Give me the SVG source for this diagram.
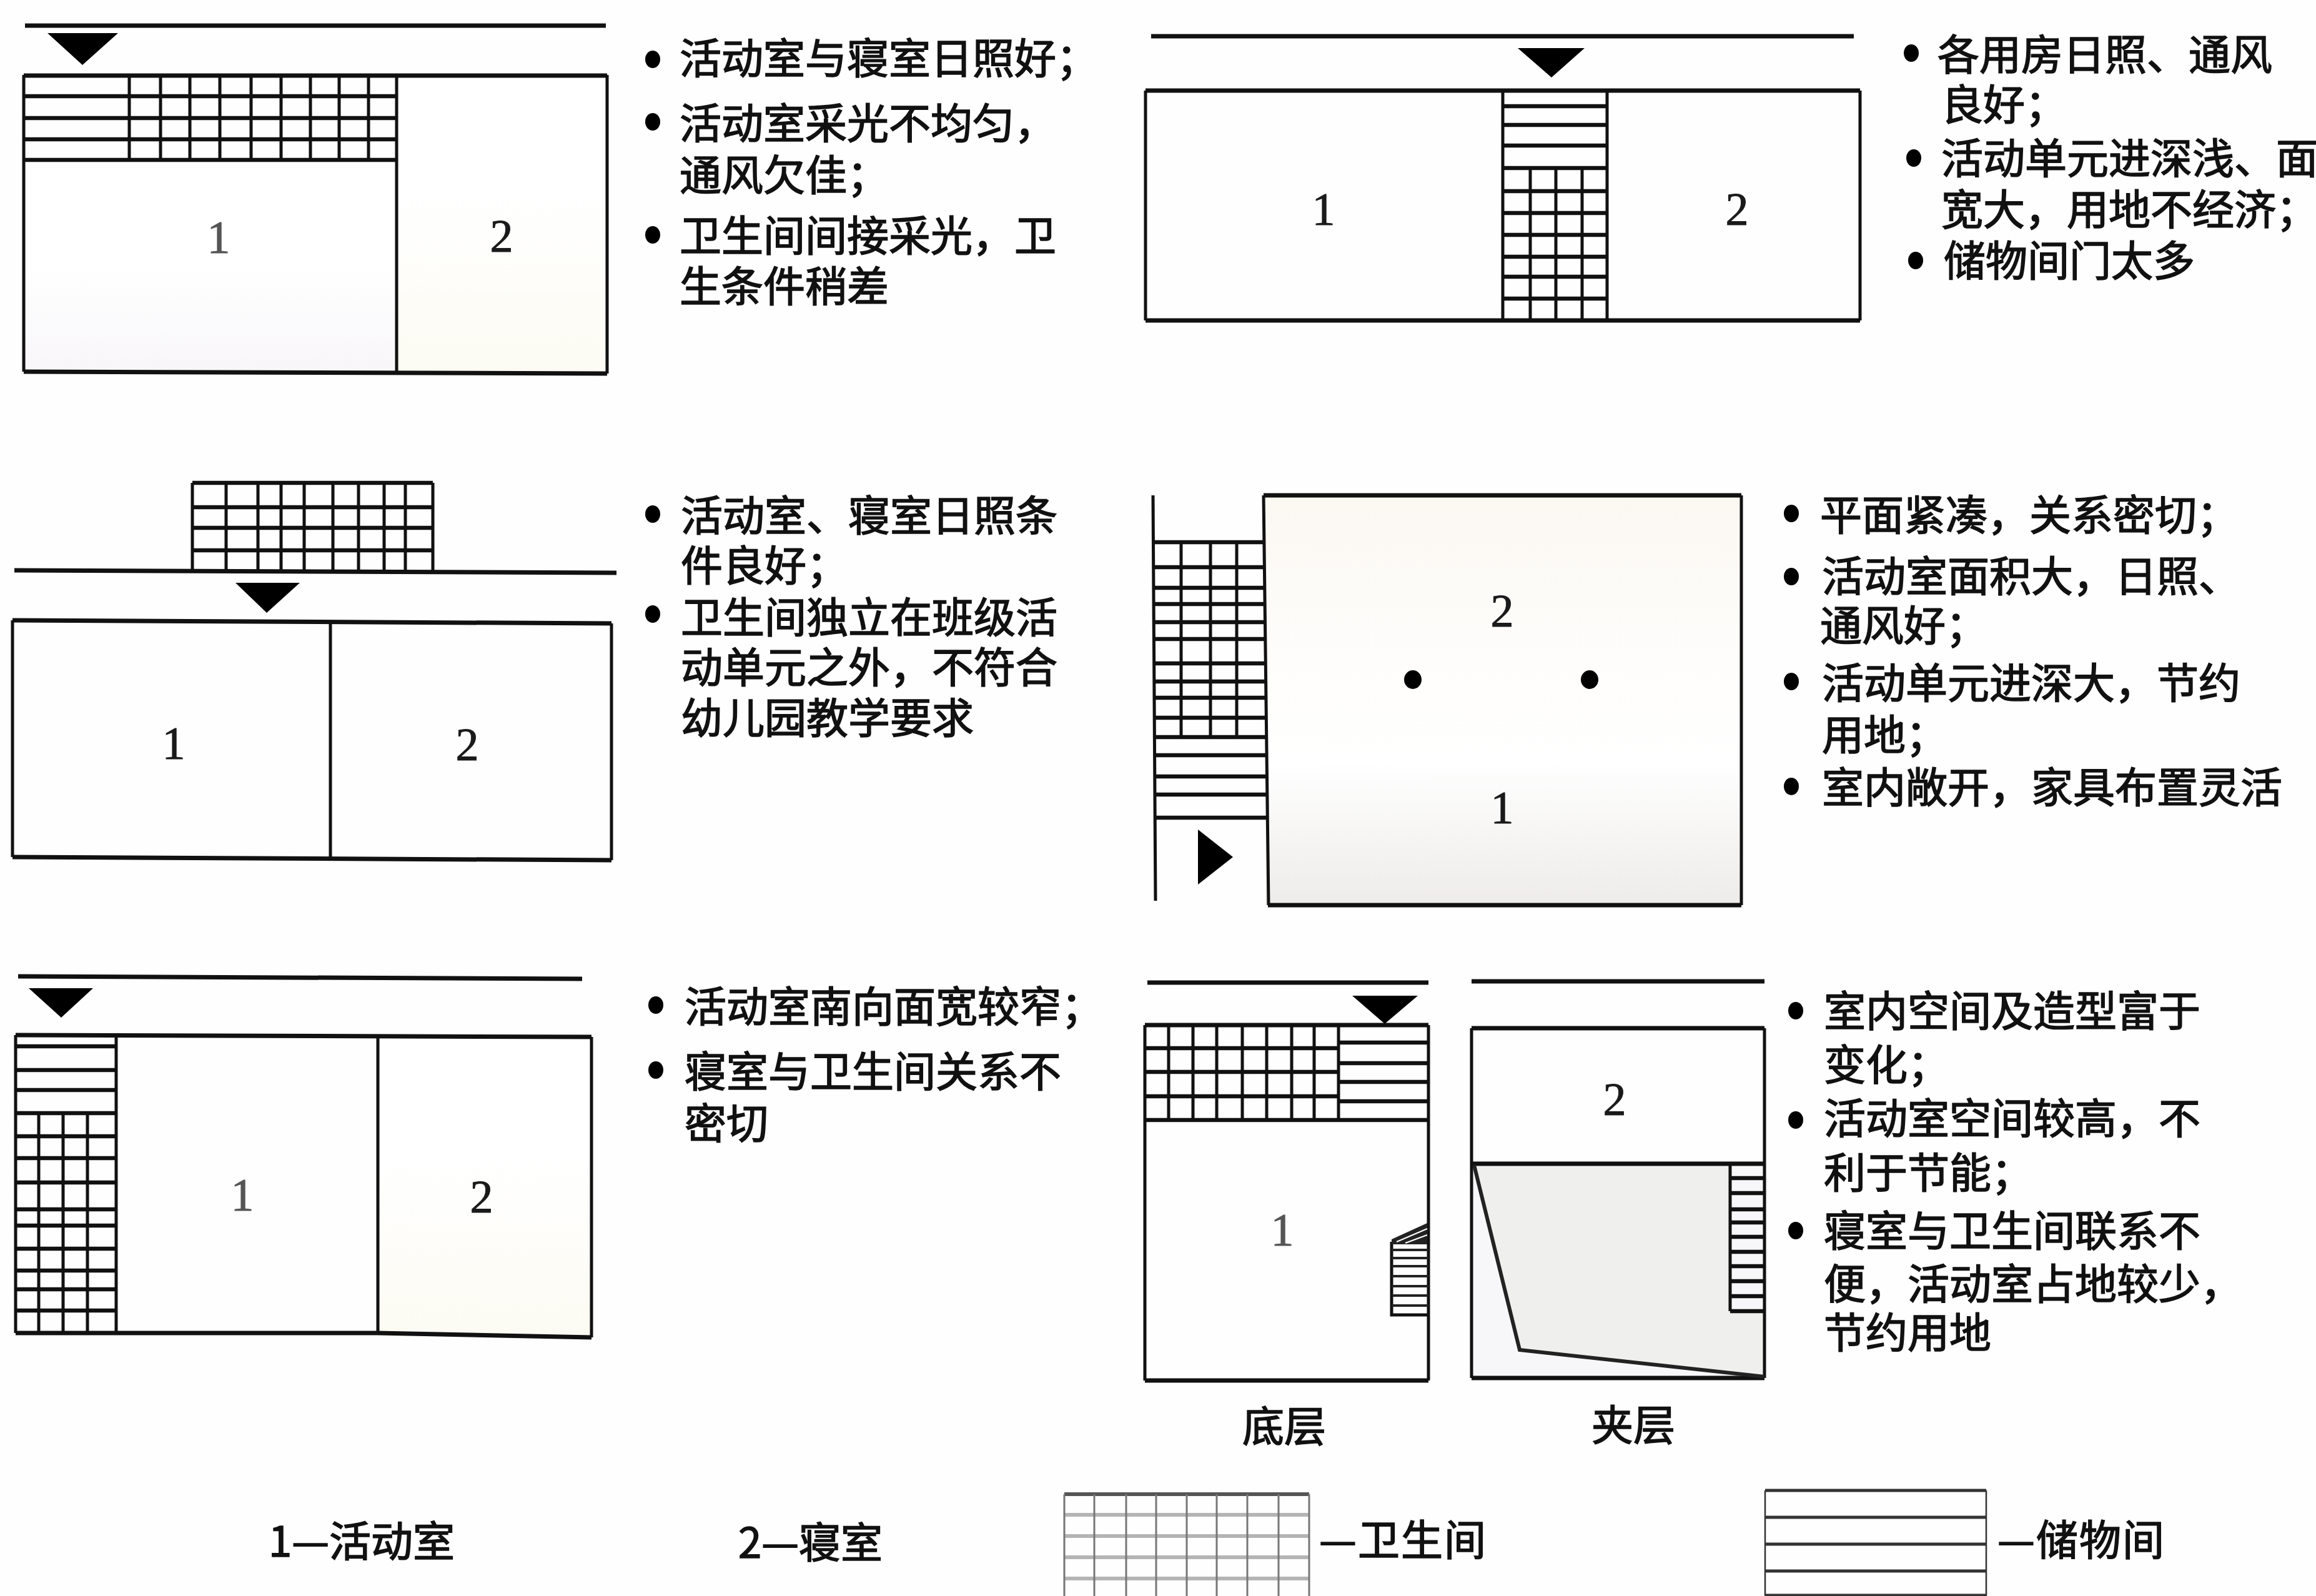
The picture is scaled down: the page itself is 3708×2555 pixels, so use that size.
<svg xmlns="http://www.w3.org/2000/svg" width="3708" height="2555" viewBox="0 0 3708 2555">
<style>
.h{fill:none;stroke:#111;stroke-width:7}
.g{fill:none;stroke:#111;stroke-width:6.5}
.v{fill:none;stroke:#111;stroke-width:5}
.t{font-family:"Noto Sans CJK SC","Noto Sans",sans-serif;font-size:67px;font-weight:400;fill:#111;stroke:#111;stroke-width:1.6}
.n{font-family:"Liberation Serif","Times New Roman",serif;font-size:74px;fill:#1a1a1a;text-anchor:middle;stroke:#1a1a1a;stroke-width:1}
.f{fill:#555;stroke:#555}
.c{text-anchor:middle}
.l{letter-spacing:2px}
.a{fill:#000}
</style>
<defs>
<linearGradient id="gP" x1="0" y1="0" x2="0" y2="1"><stop offset="0.5" stop-color="#fff"/><stop offset="1" stop-color="#f8f6f9"/></linearGradient>
<linearGradient id="gC" x1="0" y1="0" x2="0" y2="1"><stop offset="0.4" stop-color="#fff"/><stop offset="1" stop-color="#fcfbf3"/></linearGradient>
<linearGradient id="gB" x1="0" y1="0" x2="0" y2="1"><stop offset="0" stop-color="#fbf8f2"/><stop offset="0.4" stop-color="#fefdfb"/><stop offset="0.65" stop-color="#fff"/><stop offset="1" stop-color="#eeecea"/></linearGradient>
</defs>
<rect width="3708" height="2555" fill="#fefefe"/>

<g id="panel-1">
<rect x="38" y="256" width="597" height="339" fill="url(#gP)"/>
<rect x="635" y="120" width="337" height="475" fill="url(#gC)"/>
<path class="h" d="M40 41H970M38 121H972M38 595L972 598"/>
<path class="g" d="M38 154H635M38 189H635M38 223H635M38 256H635"/>
<path class="v" d="M38 120V595M972 120V598M635 120V596M207 120V256M257 120V256M304 120V256M352 120V256M402 120V256M450 120V256M497 120V256M543 120V256M590 120V256"/>
<polygon class="a" points="76,53 189,53 132,104"/>
<text class="n f" x="350" y="405">1</text>
<text class="n" x="803" y="403">2</text>
<ellipse class="a" cx="1045" cy="95" rx="12" ry="14"/><ellipse class="a" cx="1045" cy="195" rx="12" ry="14"/><ellipse class="a" cx="1045" cy="376" rx="12" ry="14"/>
<text class="t" x="1088" y="118">活动室与寝室日照好&#xFF1B;</text>
<text class="t" x="1088" y="222">活动室采光不均匀&#xFF0C;</text>
<text class="t" x="1088" y="305">通风欠佳&#xFF1B;</text>
<text class="t" x="1088" y="402">卫生间间接采光&#xFF0C;卫</text>
<text class="t" x="1088" y="483">生条件稍差</text>
</g>

<g id="panel-2">
<path class="h" d="M1843 58H2968M1834 145H2978M1834 513H2978"/>
<path class="g" d="M2406 170H2573M2406 200H2573M2406 233H2573M2406 269H2573M2406 306H2573M2406 341H2573M2406 376H2573M2406 411H2573M2406 443H2573M2406 478H2573"/>
<path class="v" d="M1834 145V513M2978 145V513M2406 145V513M2573 145V513M2450 269V513M2491 269V513M2533 269V513"/>
<polygon class="a" points="2430,77 2537,77 2484,124"/>
<text class="n" x="2119" y="360">1</text>
<text class="n" x="2781" y="360">2</text>
<ellipse class="a" cx="3060" cy="85" rx="12" ry="14"/><ellipse class="a" cx="3064" cy="253" rx="12" ry="14"/><ellipse class="a" cx="3067" cy="417" rx="12" ry="14"/>
<text class="t" x="3102" y="112">各用房日照、通风</text>
<text class="t" x="3108" y="192">良好&#xFF1B;</text>
<text class="t" x="3108" y="278">活动单元进深浅、面</text>
<text class="t" x="3108" y="360">宽大&#xFF0C;用地不经济&#xFF1B;</text>
<text class="t" x="3112" y="442">储物间门太多</text>
</g>

<g id="panel-3">
<path class="h" d="M23 913L987 917M20 993L979 998M20 1372L979 1377"/>
<path class="g" d="M308 773H693M308 812H693M308 845H693M308 881H693"/>
<path class="v" d="M308 773V914M362 773V914M413 773V914M450 773V914M487 773V914M533 773V914M574 773V914M615 773V914M649 773V914M693 773V915M20 993V1372M979 998V1377M529 995V1375"/>
<polygon class="a" points="377,933 480,933 427,981"/>
<text class="n" x="278" y="1215">1</text>
<text class="n" x="748" y="1217">2</text>
<ellipse class="a" cx="1045" cy="823" rx="12" ry="14"/><ellipse class="a" cx="1045" cy="983" rx="12" ry="14"/>
<text class="t" x="1090" y="850">活动室、寝室日照条</text>
<text class="t" x="1090" y="930">件良好&#xFF1B;</text>
<text class="t" x="1090" y="1013">卫生间独立在班级活</text>
<text class="t" x="1090" y="1093">动单元之外&#xFF0C;不符合</text>
<text class="t" x="1090" y="1174">幼儿园教学要求</text>
</g>

<g id="panel-4">
<rect x="2026" y="793" width="762" height="656" fill="url(#gB)"/>
<path class="h" d="M2023 793H2788M2030 1449H2788"/>
<path class="g" d="M1848 868H2025M1848 908H2025M1848 941H2025M1848 967H2025M1848 996H2025M1848 1023H2026M1848 1062H2026M1848 1091H2026M1848 1117H2027M1848 1149H2027M1848 1180H2028M1848 1209H2028M1850 1243H2029M1850 1272H2029M1850 1309H2029"/>
<path class="v" d="M1846 793L1850 1442M2023 793L2031 1449M2788 793V1449M1891 868V1180M1938 868V1180M1980 868V1180"/>
<polygon class="a" points="1918,1328 1974,1372 1918,1416"/>
<text class="n" x="2405" y="1003">2</text>
<text class="n" x="2405" y="1318">1</text>
<ellipse class="a" cx="2262" cy="1088" rx="14" ry="15"/><ellipse class="a" cx="2545" cy="1088" rx="14" ry="15"/>
<ellipse class="a" cx="2868" cy="822" rx="12" ry="14"/><ellipse class="a" cx="2868" cy="923" rx="12" ry="14"/><ellipse class="a" cx="2868" cy="1091" rx="12" ry="14"/><ellipse class="a" cx="2868" cy="1259" rx="12" ry="14"/>
<text class="t" x="2914" y="849">平面紧凑&#xFF0C;关系密切&#xFF1B;</text>
<text class="t" x="2917" y="947">活动室面积大&#xFF0C;日照、</text>
<text class="t" x="2914" y="1026">通风好&#xFF1B;</text>
<text class="t" x="2917" y="1118">活动单元进深大&#xFF0C;节约</text>
<text class="t" x="2917" y="1201">用地&#xFF1B;</text>
<text class="t" x="2917" y="1285">室内敞开&#xFF0C;家具布置灵活</text>
</g>

<g id="panel-5">
<rect x="605" y="1660" width="342" height="480" fill="url(#gC)"/>
<path class="h" d="M29 1563L932 1567M25 1657L947 1660M25 2134L605 2134L947 2141"/>
<path class="g" d="M25 1675H186M25 1713H186M25 1745H186M25 1782H186M25 1819H186M25 1854H186M25 1893H186M25 1936H186M25 1962H186M25 1999H186M25 2034H186M25 2064H186M25 2098H186"/>
<path class="v" d="M25 1657V2134M947 1660V2141M186 1657V2134M605 1658V2135M62 1782V2134M101 1782V2134M140 1782V2134"/>
<polygon class="a" points="46,1582 149,1582 98,1629"/>
<text class="n f" x="388" y="1938">1</text>
<text class="n" x="771" y="1941">2</text>
<ellipse class="a" cx="1050" cy="1609" rx="12" ry="14"/><ellipse class="a" cx="1050" cy="1713" rx="12" ry="14"/>
<text class="t" x="1096" y="1636">活动室南向面宽较窄&#xFF1B;</text>
<text class="t" x="1096" y="1740">寝室与卫生间关系不</text>
<text class="t" x="1096" y="1823">密切</text>
</g>

<g id="panel-6a">
<path class="h" d="M1837 1573H2287M1833 1641H2287M1833 2210H2287"/>
<path class="g" d="M1833 1678H2143M1833 1716H2143M1833 1755H2143M1833 1793H2287M2143 1669H2287M2143 1702H2287M2143 1732H2287M2143 1763H2287"/>
<path class="v" d="M1833 1641V2210M2287 1641V2210M2143 1641V1793M1871 1641V1793M1910 1641V1793M1948 1641V1793M1989 1641V1793M2028 1641V1793M2068 1641V1793M2104 1641V1793"/>
<polygon class="a" points="2165,1594 2270,1594 2217,1639"/>
<path class="v" d="M2228 1988V2105H2287"/>
<path fill="none" stroke="#222" stroke-width="4" d="M2228 2001H2287M2228 2014H2287M2228 2027H2287M2228 2043H2287M2228 2059H2287M2228 2074H2287M2228 2090H2287"/>
<path fill="#222" d="M2228 1984L2285 1958V1992H2228Z"/>
<path fill="none" stroke="#fff" stroke-width="2" d="M2236 1988L2285 1967M2250 1990L2285 1977"/>
<text class="n f" x="2053" y="1994">1</text>
<text class="t c" x="2056" y="2308">底层</text>
</g>

<g id="panel-6b">
<rect x="2358" y="1866" width="466" height="338" fill="#f7f7f9"/>
<polygon points="2362,1866 2768,1866 2768,2100 2825,2100 2825,2204 2433,2161" fill="#efefed"/>
<path class="h" d="M2356 1571H2825M2356 1646H2825M2356 1863H2825M2356 2206H2825"/>
<path class="g" d="M2770 1886H2825M2770 1910H2825M2770 1936H2825M2770 1957H2825M2770 1980H2825M2770 2004H2825M2770 2027H2825M2770 2051H2825M2770 2075H2825M2770 2099H2825"/>
<path class="v" d="M2356 1646V2206M2825 1646V2206M2770 1863V2099"/>
<path fill="none" stroke="#222" stroke-width="6" d="M2360 1865L2433 2161L2825 2204"/>
<text class="n" x="2585" y="1785">2</text>
<text class="t c" x="2615" y="2306">夹层</text>
<ellipse class="a" cx="2875" cy="1618" rx="12" ry="14"/><ellipse class="a" cx="2875" cy="1793" rx="12" ry="14"/><ellipse class="a" cx="2875" cy="1970" rx="12" ry="14"/>
<text class="t" x="2920" y="1643">室内空间及造型富于</text>
<text class="t" x="2920" y="1729">变化&#xFF1B;</text>
<text class="t" x="2920" y="1815">活动室空间较高&#xFF0C;不</text>
<text class="t" x="2920" y="1902">利于节能&#xFF1B;</text>
<text class="t" x="2920" y="1995">寝室与卫生间联系不</text>
<text class="t" x="2920" y="2080">便&#xFF0C;活动室占地较少&#xFF0C;</text>
<text class="t" x="2920" y="2158">节约用地</text>
</g>

<g id="legend">
<text class="t" x="430" y="2492">1—活动室</text>
<text class="t" x="1182" y="2494">2—寝室</text>
<path fill="none" stroke="#555" stroke-width="6" d="M1704 2392H2096"/>
<path fill="none" stroke="#b4b4b4" stroke-width="6" d="M1704 2425H2096M1704 2459H2096M1704 2493H2096M1704 2527H2096"/>
<path fill="none" stroke="#777" stroke-width="3" d="M1704 2392V2555M1752 2392V2555M1803 2392V2555M1851 2392V2555M1900 2392V2555M1948 2392V2555M1997 2392V2555M2047 2392V2555M2096 2392V2555"/>
<text class="t l" x="2112" y="2490">—卫生间</text>
<path fill="none" stroke="#333" stroke-width="5" d="M2826 2386H3180M2826 2429H3180M2826 2472H3180M2826 2515H3180M2826 2554H3180"/>
<path fill="none" stroke="#333" stroke-width="2.5" d="M2826 2386V2555M3180 2386V2555"/>
<text class="t l" x="3198" y="2490">—储物间</text>
</g>
</svg>
